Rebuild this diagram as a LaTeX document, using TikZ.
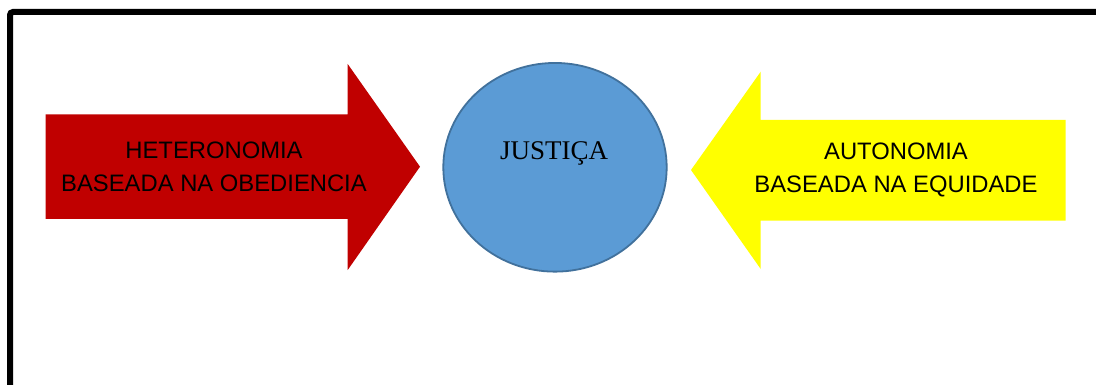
\documentclass[tikz,border=0pt]{standalone}
\usepackage{fontspec}
\setmainfont{Liberation Sans}
\newfontfamily\serifjus{Liberation Serif}
\usetikzlibrary{shapes.geometric}
\definecolor{arrowred}{HTML}{C00000}
\definecolor{arrowyellow}{HTML}{FFFF00}
\definecolor{circfill}{HTML}{5B9BD5}
\definecolor{circline}{HTML}{41719C}
\tikzset{
  arrowtext/.style={align=center, inner sep=0pt, text=black, font=\fontsize{23.8}{33}\selectfont},
  circnode/.style={ellipse, draw=circline, line width=1.8pt, fill=circfill, inner sep=0pt},
  frameline/.style={line width=6pt, rounded corners=3pt}
}
\begin{document}
\begin{tikzpicture}[x=1pt,y=-1pt]
\useasboundingbox (0,0) rectangle (1096,385);
\clip (0,0) rectangle (1096,385);
\fill[white] (0,0) rectangle (1096,385);
% frame
\draw[frameline] (10,400) -- (10,12) -- (1110,12);
% red arrow
\fill[arrowred] (45.7,114.3) -- (347.7,114.3) -- (347.7,64) -- (420,166.7) -- (347.7,270) -- (347.7,219) -- (45.7,219) -- cycle;
\node[arrowtext] (hetero) at (214,166.5) {HETERONOMIA\\BASEADA NA OBEDIENCIA};
% circle
\node[circnode, minimum width=223.4pt, minimum height=208.7pt] (just) at (555,167.3) {};
\node[inner sep=0pt, font=\serifjus\fontsize{27}{30}\selectfont] (justtxt) at (554.2,153) {JUSTIÇA};
% yellow arrow
\fill[arrowyellow] (1065.7,120) -- (760.7,120) -- (760.7,71.7) -- (691,170) -- (760.7,269) -- (760.7,220.7) -- (1065.7,220.7) -- cycle;
\node[arrowtext] (auto) at (896,170) {AUTONOMIA\\BASEADA NA EQUIDADE};
\end{tikzpicture}
\end{document}
